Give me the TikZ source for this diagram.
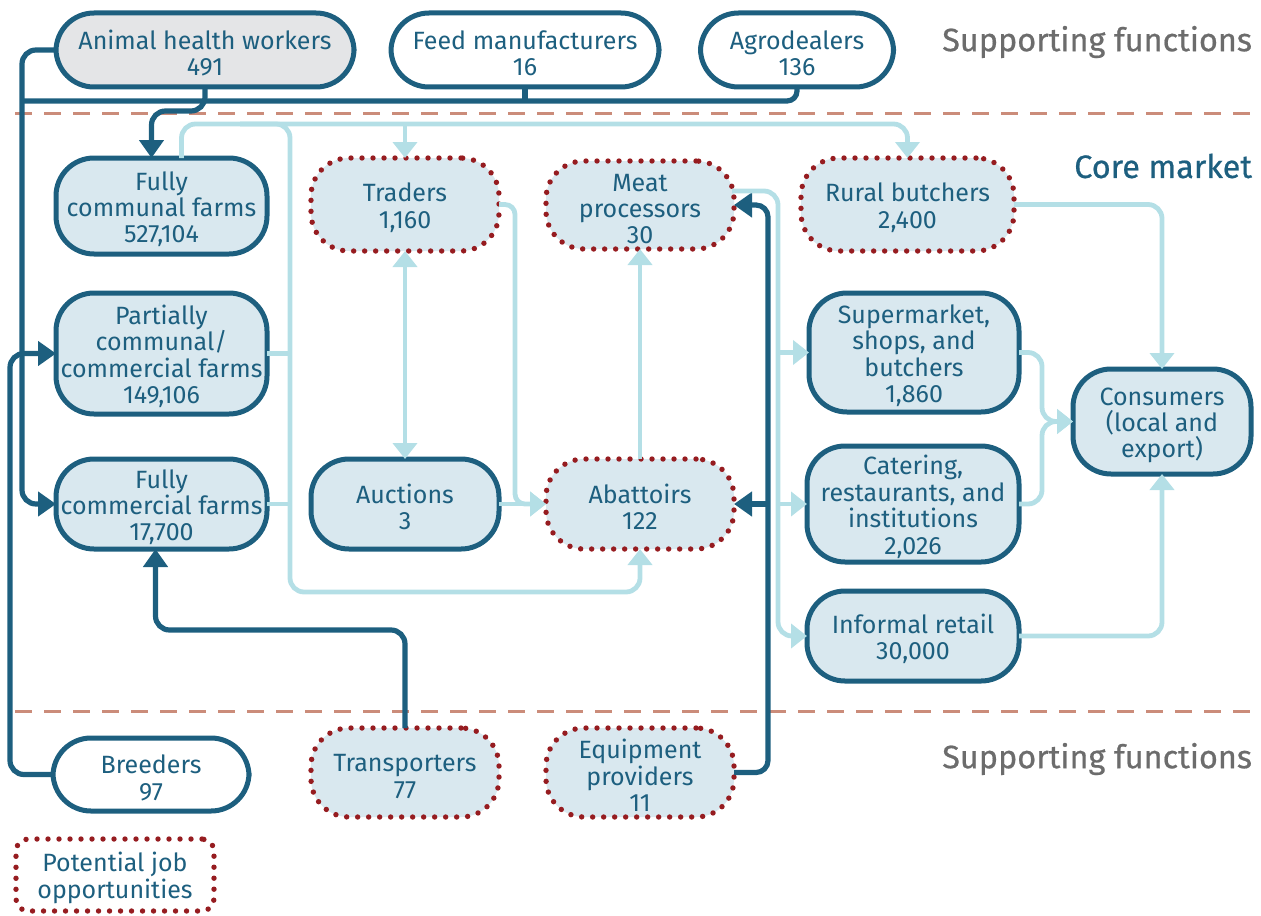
\documentclass[tikz,border=0pt]{standalone}
\usepackage{fontspec}
\setmainfont{Fira Sans}
\newfontfamily\headfam[FakeBold=0.6]{Fira Sans}
\usetikzlibrary{arrows.meta,calc}
\definecolor{darkc}{RGB}{29,95,127}
\definecolor{fillc}{RGB}{217,232,239}
\definecolor{greyc}{RGB}{228,229,231}
\definecolor{lightc}{RGB}{180,223,230}
\definecolor{redc}{RGB}{150,28,32}
\definecolor{dashc}{RGB}{203,140,122}
\definecolor{titlegrey}{RGB}{108,108,108}
\newcommand\boxfont{\fontsize{12.5}{13.2}\selectfont}
\newcommand\headfont{\headfam\fontsize{16.2}{20}\selectfont}
% invisible strut that lowers the first line a little inside each box
\newcommand\tp{\rule{0pt}{12.6pt}}
\begin{document}
\begin{tikzpicture}[x=0.5pt,y=-0.5pt,
  every node/.style={inner sep=0pt, outer sep=0pt},
  base/.style={rounded corners=19pt, align=center, text=darkc, font=\boxfont, fill=fillc},
  solidbox/.style={base, draw=darkc, line width=2.5pt},
  plainbox/.style={solidbox, fill=white},
  greybox/.style={solidbox, fill=greyc},
  dotbox/.style={base, draw=redc, line width=2.7pt, dash pattern=on 0pt off 5.5pt, line cap=round},
  darkline/.style={draw=darkc, line width=2.6pt, rounded corners=7pt},
  lightline/.style={draw=lightc, line width=2.4pt, rounded corners=7pt},
  darkarrow/.style={darkline, -{Triangle[width=12pt,length=9pt]}},
  lightarrow/.style={lightline, -{Triangle[width=12pt,length=8pt]}},
  sepline/.style={draw=dashc, line width=1.5pt, dash pattern=on 8.5pt off 6pt},
  heading/.style={anchor=east, font=\headfont}]

\useasboundingbox (0,0) rectangle (1261,915);

% section separators
\draw[sepline] (15,113) -- (1261,113);
\draw[sepline] (15,711) -- (1261,711);

% section headings
\node[heading, text=titlegrey] (hTop) at (1252,42) {Supporting functions};
\node[heading, text=darkc] (hCore) at (1252,166) {Core market};
\node[heading, text=titlegrey] (hBot) at (1252,759) {Supporting functions};

% routing rails
\coordinate (xB) at (10,0);
\coordinate (xL) at (22,0);
\coordinate (xM) at (290,0);
\coordinate (xMs) at (240,0);
\coordinate (xT) at (515,0);
\coordinate (xEq) at (768,0);
\coordinate (xR) at (778,0);
\coordinate (xC) at (1042,0);
\coordinate (yBus) at (0,101);
\coordinate (yAhw) at (0,111);
\coordinate (yTop) at (0,124);
\coordinate (yLow) at (0,592);
\coordinate (yTr) at (0,630);

% supporting functions, top
\node[greybox, minimum width=149pt, minimum height=37pt] (AHW) at (205,50) {\tp Animal health workers\\491};
\node[plainbox, minimum width=134pt, minimum height=37pt] (Feed) at (525,50) {\tp Feed manufacturers\\16};
\node[plainbox, minimum width=96.5pt, minimum height=37pt] (Agro) at (797,50) {\tp Agrodealers\\136};

% producers
\node[solidbox, minimum width=105.5pt, minimum height=48pt] (FComm) at (161.5,206) {\tp Fully\\communal farms\\527,104};
\node[solidbox, minimum width=105.5pt, minimum height=60.5pt] (Partial) at (161.5,353.5) {\tp Partially\\communal/\\commercial farms\\149,106};
\node[solidbox, minimum width=105.5pt, minimum height=45pt] (FComc) at (161.5,504) {\tp Fully\\commercial farms\\17,700};

% intermediaries
\node[dotbox, minimum width=94pt, minimum height=46.5pt] (Traders) at (405,204.5) {\tp Traders\\1,160};
\node[solidbox, minimum width=94pt, minimum height=45pt] (Auctions) at (405,504) {\tp Auctions\\3};
\node[dotbox, minimum width=94pt, minimum height=44pt] (MeatP) at (640,205) {\tp Meat\\processors\\30};
\node[dotbox, minimum width=94pt, minimum height=45pt] (Abattoirs) at (640,504) {\tp Abattoirs\\122};
\node[dotbox, minimum width=106.5pt, minimum height=46.5pt] (Rural) at (907.5,204.5) {\tp Rural butchers\\2,400};

% retail and consumers
\node[solidbox, minimum width=105pt, minimum height=59.5pt] (Super) at (914,352.5) {\tp Supermarket,\\shops, and\\butchers\\1,860};
\node[solidbox, minimum width=106pt, minimum height=58pt] (Catering) at (913,504) {\tp Catering,\\restaurants, and\\institutions\\2,026};
\node[solidbox, minimum width=106pt, minimum height=45pt] (Informal) at (913,636) {\tp Informal retail\\30,000};
\node[solidbox, minimum width=89pt, minimum height=52.5pt] (Consumers) at (1162,421.5) {\tp Consumers\\(local and\\export)};

% supporting functions, bottom
\node[plainbox, minimum width=98pt, minimum height=36.5pt] (Breeders) at (151,774.5) {\tp Breeders\\97};
\node[dotbox, minimum width=94pt, minimum height=44.5pt] (Transporters) at (405,772.5) {\tp Transporters\\77};
\node[dotbox, minimum width=94pt, minimum height=44.5pt] (Equip) at (640,772.5) {\tp Equipment\\providers\\11};

% legend
\node[dotbox, fill=white, rounded corners=6pt, minimum width=99pt, minimum height=36pt] (Legend) at (115,875) {\tp Potential job\\opportunities};

% input supply links (dark)
\draw[darkarrow] (AHW.west) -| (xL |- FComc.west) -- (FComc.west);
\draw[darkline, rounded corners=5pt] (Agro.south) |- (xL |- yBus);
\draw[darkline] (Feed.south) -- (Feed.south |- yBus);
\draw[darkarrow] (AHW.south) -- (AHW.south |- yAhw) -| ([xshift=-5pt]FComm.north);
\draw[darkarrow] (Breeders.west) -| (xB |- Partial.west) -- (Partial.west);
\draw[darkarrow] (Transporters.north) |- (xMs |- yTr) -| ([xshift=-3pt]FComc.south);
\draw[darkarrow, rounded corners=6pt] (Equip.east) -| (xEq |- MeatP.east) -- (MeatP.east);
\draw[darkarrow] (xEq |- Abattoirs.east) -- (Abattoirs.east);

% product flows (light)
\draw[lightarrow] ([xshift=10pt]FComm.north) |- (Rural.north |- yTop) -- (Rural.north);
\draw[lightarrow] (Traders.north |- yTop) -- (Traders.north);
\draw[lightarrow] (xMs |- yTop) -- (xM |- yTop) -- (xM |- yLow) -| (Abattoirs.south);
\draw[lightline] (Partial.east) -- (xM |- Partial.east);
\draw[lightline] (FComc.east) -- (xM |- FComc.east);
\draw[lightline, {Triangle[width=12pt,length=8pt]}-{Triangle[width=12pt,length=8pt]}] (Traders.south) -- (Auctions.north);
\draw[lightarrow, rounded corners=5pt] (Traders.east) -| (xT |- Abattoirs.west) -- (Abattoirs.west);
\draw[lightarrow] (Auctions.east) -- (Abattoirs.west);
\draw[lightarrow] (Abattoirs.north) -- (MeatP.south);
\draw[lightarrow] ([yshift=7pt,xshift=-1pt]MeatP.east) -| (xR |- Informal.west) -- (Informal.west);
\draw[lightarrow] (xR |- Super.west) -- (Super.west);
\draw[lightarrow] (xR |- Catering.west) -- (Catering.west);
\draw[lightarrow] (Rural.east) -| (Consumers.north);
\draw[lightarrow] (Super.east) -| (xC |- Consumers.west) -- (Consumers.west);
\draw[lightarrow] (Catering.east) -| (xC |- Consumers.west) -- (Consumers.west);
\draw[lightarrow] (Informal.east) -| (Consumers.south);
\end{tikzpicture}
\end{document}
